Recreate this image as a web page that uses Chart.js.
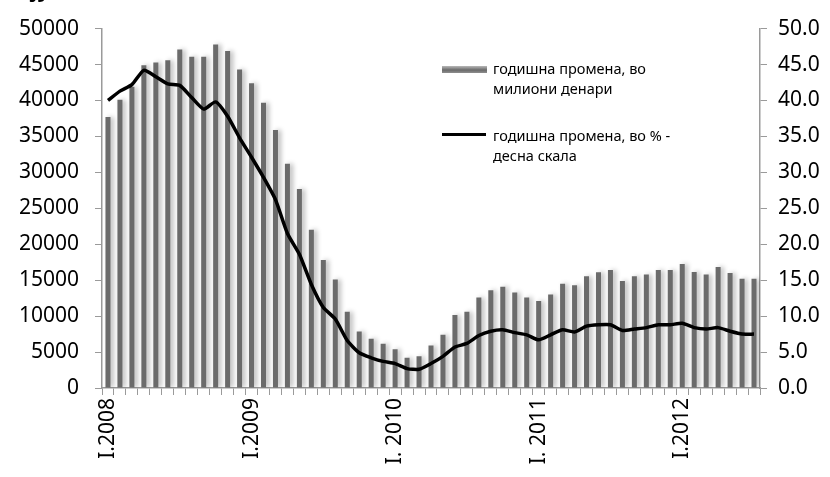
<!DOCTYPE html>
<html>
<head>
<meta charset="utf-8">
<script src="https://cdn.jsdelivr.net/npm/chart.js@4.4.1/dist/chart.umd.min.js"></script>
<style>
  html, body { margin: 0; padding: 0; background: #fff; }
  #wrap { width: 830px; height: 477px; position: relative; }
</style>
</head>
<body>
<div id="wrap"><canvas id="depChart" width="830" height="477"></canvas></div>
<script>
// monthly, I.2008 - VII.2012
const years = [2008, 2009, 2010, 2011, 2012];
const romanMonths = ['I', 'II', 'III', 'IV', 'V', 'VI', 'VII', 'VIII', 'IX', 'X', 'XI', 'XII'];
const yearTickLabels = ['I.2008', 'I.2009', 'I. 2010', 'I. 2011', 'I.2012'];

// годишна промена, во милиони денари
const changeMkd = [
  37700, 40100, 41900, 44900, 45300, 45600, 47100, 46100, 46100, 47800, 46900, 44300,
  42400, 39700, 35900, 31200, 27700, 22000, 17800, 15100, 10600, 7850, 6850, 6150,
  5400, 4200, 4400, 5900, 7400, 10150, 10600, 12600, 13600, 14100, 13300, 12600,
  12100, 13000, 14500, 14300, 15550, 16100, 16400, 14900, 15550, 15800, 16400, 16400,
  17250, 16150, 15800, 16850, 16000, 15200, 15200
];

// годишна промена, во % (десна скала)
const changePct = [
  40.0, 41.3, 42.2, 44.2, 43.3, 42.3, 42.1, 40.4, 38.8, 39.8, 37.8, 34.8,
  32.1, 29.3, 26.2, 21.5, 18.6, 14.4, 11.2, 9.6, 6.6, 4.9, 4.2, 3.7,
  3.4, 2.7, 2.6, 3.4, 4.4, 5.7, 6.2, 7.3, 7.9, 8.1, 7.7, 7.4,
  6.7, 7.4, 8.1, 7.8, 8.6, 8.8, 8.8, 8.0, 8.2, 8.4, 8.8, 8.8,
  9.0, 8.4, 8.2, 8.4, 7.9, 7.5, 7.5
];

const categories = [];
years.forEach(y => romanMonths.forEach(m => categories.push(m + '.' + y)));
categories.length = changeMkd.length;

const FONT = '"Noto Sans", "Open Sans", sans-serif';
const AXIS_GREY = '#9a9a9a';

// soft shadow behind the bars, like the original
const barShadow = {
  id: 'barShadow',
  beforeDatasetDraw(chart, args) {
    if (args.meta.type !== 'bar') return;
    const c = chart.ctx;
    c.save();
    c.shadowColor = 'rgba(0,0,0,0.28)';
    c.shadowBlur = 5;
    c.shadowOffsetX = 3;
    c.shadowOffsetY = 0;
  },
  afterDatasetDraw(chart, args) {
    if (args.meta.type !== 'bar') return;
    chart.ctx.restore();
  }
};

// two-line legend inside the plot + clipped title fragment at top
const sideLegend = {
  id: 'sideLegend',
  afterDraw(chart) {
    const c = chart.ctx;
    c.save();
    const g = c.createLinearGradient(0, 66, 0, 74);
    g.addColorStop(0, '#b8b8b8');
    g.addColorStop(0.5, '#6a6a6a');
    g.addColorStop(1, '#9a9a9a');
    c.fillStyle = g;
    c.fillRect(442, 66, 45, 7);

    c.strokeStyle = '#000';
    c.lineWidth = 3;
    c.beginPath();
    c.moveTo(442, 134.5);
    c.lineTo(486, 134.5);
    c.stroke();

    c.fillStyle = '#000';
    c.font = '14.5px ' + FONT;
    c.textBaseline = 'middle';
    c.textAlign = 'left';
    c.fillText('годишна промена, во', 493, 70);
    c.fillText('милиони денари', 493, 90);
    c.fillText('годишна промена, во % -', 493, 137);
    c.fillText('десна скала', 493, 157);

    c.font = 'bold 22px ' + FONT;
    c.textBaseline = 'alphabetic';
    c.fillText('ју', 31, -3);
    c.restore();
  }
};

const ctx = document.getElementById('depChart').getContext('2d');
const depChart = new Chart(ctx, {
  type: 'bar',
  data: {
    labels: categories,
    datasets: [
      {
        type: 'line',
        label: 'годишна промена, во % - десна скала',
        data: changePct,
        yAxisID: 'y1',
        borderColor: '#000',
        borderWidth: 3.5,
        pointRadius: 0,
        tension: 0.2,
        order: 0
      },
      {
        label: 'годишна промена, во милиони денари',
        data: changeMkd,
        yAxisID: 'y',
        backgroundColor: '#6b6b6b',
        categoryPercentage: 1,
        barPercentage: 0.42,
        order: 1
      }
    ]
  },
  options: {
    responsive: false,
    animation: false,
    devicePixelRatio: 1,
    layout: { padding: { top: 25, left: 0, right: 0, bottom: 0 } },
    plugins: {
      legend: { display: false },
      tooltip: { enabled: false }
    },
    scales: {
      x: {
        grid: {
          offset: true,
          drawOnChartArea: false,
          drawTicks: true,
          tickLength: 7,
          color: AXIS_GREY
        },
        border: { display: true, color: AXIS_GREY, width: 1.5 },
        ticks: {
          autoSkip: false,
          maxRotation: 90,
          minRotation: 90,
          padding: 3,
          color: '#000',
          font: { family: FONT, size: 21 },
          callback: (v, i) => (i % 12 === 0 ? yearTickLabels[i / 12] : '')
        },
        afterFit: s => { s.height = 89; }
      },
      y: {
        position: 'left',
        min: 0,
        max: 50000,
        grid: {
          drawOnChartArea: false,
          drawTicks: true,
          tickLength: 7,
          color: AXIS_GREY
        },
        border: { display: true, color: AXIS_GREY, width: 1.5 },
        ticks: {
          stepSize: 5000,
          padding: 16,
          color: '#000',
          font: { family: FONT, size: 21 },
          callback: v => String(v)
        },
        afterFit: s => { s.width = 102; }
      },
      y1: {
        position: 'right',
        min: 0,
        max: 50,
        grid: {
          drawOnChartArea: false,
          drawTicks: true,
          tickLength: 7,
          color: AXIS_GREY
        },
        border: { display: true, color: AXIS_GREY, width: 1.5 },
        ticks: {
          stepSize: 5,
          padding: 11,
          color: '#000',
          font: { family: FONT, size: 21 },
          callback: v => v.toFixed(1)
        },
        afterFit: s => { s.width = 70; }
      }
    }
  },
  plugins: [barShadow, sideLegend]
});
</script>
</body>
</html>
